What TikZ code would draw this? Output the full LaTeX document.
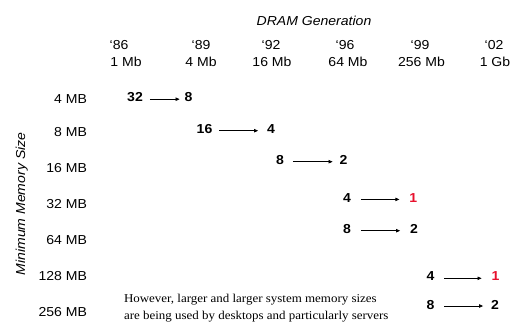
\documentclass[tikz,border=0pt]{standalone}
\usepackage{fontspec}
\setmainfont{Liberation Sans}[FakeStretch=1.08]
\newfontfamily\notefont{Liberation Serif}[FakeStretch=1.08]
\usetikzlibrary{arrows.meta}
\definecolor{hired}{HTML}{E8112D}
\begin{document}
\begin{tikzpicture}[x=1pt,y=-1pt,
  every node/.style={inner sep=0pt,outer sep=0pt},
  lbl/.style={font=\fontsize{13}{15}\selectfont, anchor=base},
  rowlbl/.style={font=\fontsize{13}{15}\selectfont, anchor=base east},
  num/.style={font=\fontsize{13}{15}\selectfont\bfseries, anchor=base},
  ttl/.style={font=\fontsize{13}{15}\selectfont\itshape, anchor=base},
  note/.style={font=\notefont\fontsize{12}{17.5}\selectfont, anchor=base west},
  arr/.style={line width=0.7pt, -{Triangle[length=4pt,width=3.4pt]}}
]
\useasboundingbox[fill=white] (0,0) rectangle (510,327);

% titles
\node[ttl] (title) at (314,25) {DRAM Generation};
\node[ttl, rotate=90] (ytitle) at (25,204) {Minimum Memory Size};

% column headers
\node[lbl] (y86) at (119,49.5) {‘86};
\node[lbl] (y89) at (201,49.5) {‘89};
\node[lbl] (y92) at (271,49.5) {‘92};
\node[lbl] (y96) at (345,49.5) {‘96};
\node[lbl] (y99) at (420,49.5) {‘99};
\node[lbl] (y02) at (494,49.5) {‘02};
\node[lbl] (c1) at (126,66.5) {1 Mb};
\node[lbl] (c2) at (201,66.5) {4 Mb};
\node[lbl] (c3) at (272,66.5) {16 Mb};
\node[lbl] (c4) at (348,66.5) {64 Mb};
\node[lbl] (c5) at (421.5,66.5) {256 Mb};
\node[lbl] (c6) at (495,66.5) {1 Gb};

% row labels
\node[rowlbl] (r1) at (87,103) {4 MB};
\node[rowlbl] (r2) at (87,136) {8 MB};
\node[rowlbl] (r3) at (87,172) {16 MB};
\node[rowlbl] (r4) at (87,208) {32 MB};
\node[rowlbl] (r5) at (87,244) {64 MB};
\node[rowlbl] (r6) at (87,280) {128 MB};
\node[rowlbl] (r7) at (87,316) {256 MB};

% numbers
\node[num] (a1) at (135,101.5) {32};
\node[num] (b1) at (188.5,101.5) {8};
\node[num] (a2) at (204.5,133) {16};
\node[num] (b2) at (271,133) {4};
\node[num] (a3) at (280,164) {8};
\node[num] (b3) at (343.5,164) {2};
\node[num] (a4) at (347,202) {4};
\node[num, text=hired] (b4) at (413.3,202) {1};
\node[num] (a5) at (347,233) {8};
\node[num] (b5) at (414,233) {2};
\node[num] (a6) at (430.5,280.5) {4};
\node[num, text=hired] (b6) at (495.5,280.5) {1};
\node[num] (a7) at (430.5,309) {8};
\node[num] (b7) at (495,309) {2};

% arrows
\draw[arr, shorten <=7pt, shorten >=5pt] ([yshift=2.3pt]a1.base east) -- ([yshift=2.3pt]b1.base west);
\draw[arr, shorten <=7pt, shorten >=9pt] ([yshift=2.3pt]a2.base east) -- ([yshift=2.3pt]b2.base west);
\draw[arr, shorten <=9pt, shorten >=7pt] ([yshift=2.3pt]a3.base east) -- ([yshift=2.3pt]b3.base west);
\draw[arr, shorten <=10pt, shorten >=10pt] ([yshift=2.6pt]a4.base east) -- ([yshift=2.6pt]b4.base west);
\draw[arr, shorten <=10pt, shorten >=10pt] ([yshift=2.3pt]a5.base east) -- ([yshift=2.3pt]b5.base west);
\draw[arr, shorten <=10pt, shorten >=10pt] ([yshift=2.2pt]a6.base east) -- ([yshift=2.2pt]b6.base west);
\draw[arr, shorten <=10pt, shorten >=8pt] ([yshift=3pt]a7.base east) -- ([yshift=3pt]b7.base west);

% note
\node[note] (note1) at (124,302) {However, larger and larger system memory sizes};
\node[note] (note2) at (124,319.5) {are being used by desktops and particularly servers};
\end{tikzpicture}
\end{document}
